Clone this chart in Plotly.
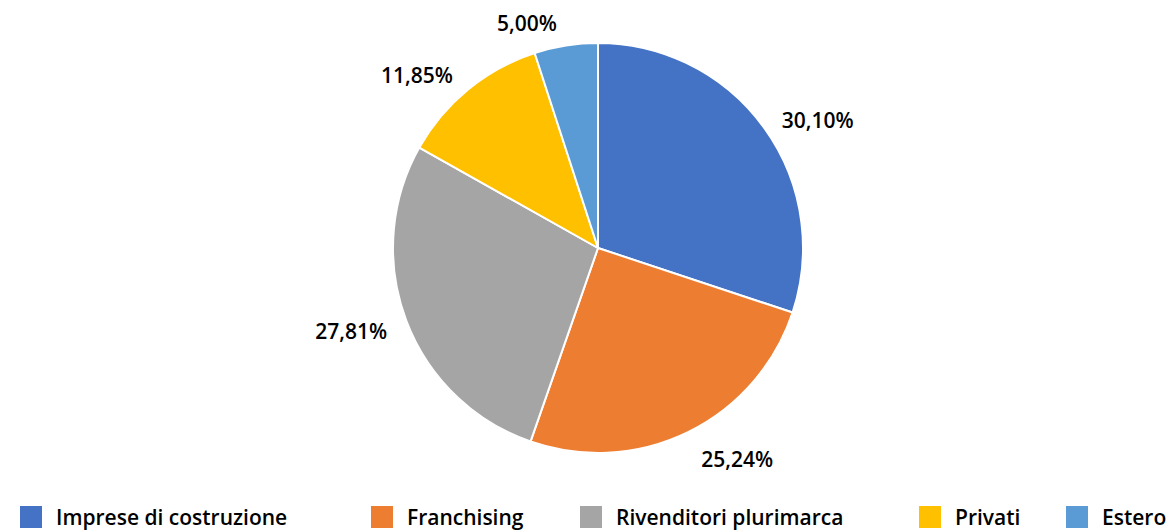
import plotly.graph_objects as go

categories = ["Imprese di costruzione", "Franchising", "Rivenditori plurimarca", "Privati", "Estero"]
values = [30.10, 25.24, 27.81, 11.85, 5.00]
text_labels = ["30,10%", "25,24%", "27,81%", "11,85%", "5,00%"]
colors = ["#4472C4", "#ED7D31", "#A5A5A5", "#FFC000", "#5B9BD5"]

W, H = 1170, 531
FONT = "Open Sans"
CX, CY, R = 598, 248, 205
R_LABEL = 218   # labels sit a bit further out than the pie edge
CY_LABEL = 252


def dom(r, cy=CY):
    return dict(x=[(CX - r) / W, (CX + r) / W], y=[(H - cy - r) / H, (H - cy + r) / H])


fig = go.Figure()
fig.add_trace(go.Pie(
    labels=categories,
    values=values,
    textinfo="none",
    marker=dict(colors=colors, line=dict(color="#FFFFFF", width=2)),
    sort=False,
    direction="clockwise",
    rotation=0,
    showlegend=False,
    domain=dom(R),
    hoverinfo="label+percent",
))
# transparent ring carrying the outside data labels
fig.add_trace(go.Pie(
    labels=categories,
    values=values,
    text=text_labels,
    textinfo="text",
    textposition="outside",
    textfont=dict(family=FONT, size=21, color="#000000", weight=600),
    marker=dict(colors=["rgba(0,0,0,0)"] * len(values), line=dict(width=0)),
    sort=False,
    direction="clockwise",
    rotation=0,
    showlegend=False,
    domain=dom(R_LABEL, CY_LABEL),
    hoverinfo="skip",
))

# custom legend (Excel style) below the pie
legend_x = [20, 371, 580, 919, 1066]
sq = 22
ly = 517
for name, col, x0 in zip(categories, colors, legend_x):
    fig.add_shape(type="rect", xref="paper", yref="paper",
                  x0=x0 / W, x1=(x0 + sq) / W,
                  y0=(H - ly - sq / 2) / H, y1=(H - ly + sq / 2) / H,
                  fillcolor=col, line=dict(width=0))
    fig.add_annotation(xref="paper", yref="paper", x=(x0 + sq + 12) / W, y=(H - ly) / H,
                       text=name, showarrow=False, xanchor="left", yanchor="middle",
                       font=dict(family=FONT, size=21, color="#000000", weight=600))

fig.update_layout(
    width=W, height=H,
    margin=dict(l=0, r=0, t=0, b=0, autoexpand=False),
    paper_bgcolor="#FFFFFF",
    plot_bgcolor="#FFFFFF",
    font=dict(family=FONT),
)

fig.write_html("out.html", config={"displayModeBar": False},
               post_script="document.body.style.margin='0';document.body.style.overflow='hidden';")
